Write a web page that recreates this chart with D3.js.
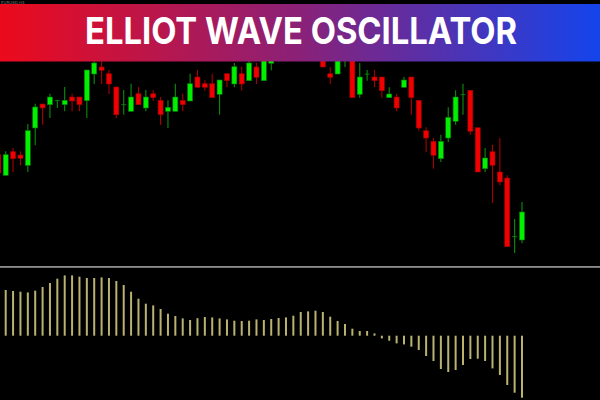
<!DOCTYPE html>
<html>
<head>
<meta charset="utf-8">
<script src="https://cdn.jsdelivr.net/npm/d3@7"></script>
<style>
  body { margin: 0; background: #000; }
  svg { display: block; }
</style>
</head>
<body>
<div id="chart"></div>
<script>
// candle index (first one is cut at the left edge)
var bars = d3.range(-1, 71);

// OHLC
var opens  = [145.3, 124.7, 148.3, 145, 134.7, 172, 196, 195.3, 199.7, 195.3, 203, 203, 199.3, 226, 233, 226.3,
              213, 195.5, 188.7, 206.3, 192, 206.3, 199.7, 188.7, 188.7, 199.7, 199, 223, 216.3, 216.3, 205.7,
              226.3, 216, 226.3, 219.3, 233, 219.3, 236.7, 250, 244, 252, 258, 252, 257, 246, 226.3, 226, 242,
              247, 205.7, 226.1, 223, 223, 202.3, 203, 212.7, 223, 199.7, 169.3, 158.7, 141.3, 162, 178.7, 205.5,
              209.7, 172.3, 131.3, 148.3, 128, 122, 63.5, 60];
var highs  = [147, 148.7, 152, 148.7, 176, 196.3, 196, 206.3, 199.7, 213, 206.3, 203, 230, 238.7, 240, 230,
              213, 210, 216.3, 213, 210, 210, 203, 199.7, 216.3, 206.3, 226.3, 230, 219.7, 226.3, 220, 226.3,
              237, 233.3, 241, 237, 245, 246, 252, 256, 262, 261, 260, 259, 249, 233, 246, 250, 250, 237, 230,
              230, 223, 212.7, 206.3, 223, 223, 199.7, 172.7, 162, 165.3, 192.7, 209.7, 216.3, 209.7, 172.3, 152,
              155.3, 162, 124.7, 81, 98];
var lows   = [124, 124.7, 128, 134.7, 128, 154.7, 175.3, 182, 192, 188.7, 188.7, 188.7, 182, 216, 216, 206,
              182, 185.3, 188.7, 195.3, 188.7, 199, 175, 172, 188.7, 188.7, 199, 212.7, 209.3, 202.3, 185.3,
              212.7, 212.7, 209.3, 219.3, 216, 219.3, 229.7, 241, 242, 249, 247, 250, 244, 233, 216, 226, 233,
              202.3, 202.3, 219.3, 212.7, 202.3, 202.3, 188.7, 212.7, 185.3, 169.3, 148, 131.3, 138, 158, 175.3,
              185.3, 165.3, 128, 128, 97, 114.7, 53.3, 47, 56.7];
var closes = [127, 145.3, 141.3, 141.7, 169.3, 193, 192, 203, 199.7, 199.7, 199, 195.3, 230, 237, 229.7, 216,
              185.3, 195.7, 203, 195.3, 203, 202.3, 185.3, 192.7, 203, 195.3, 216.3, 212.7, 212.7, 202.3, 220,
              219.3, 233.3, 216, 237, 222.7, 242, 243, 244, 252, 258, 252, 257, 248, 233, 222.7, 243, 248, 202.3,
              223, 226.3, 219.3, 209.3, 206, 192, 220, 202.3, 172, 162, 144.7, 158.7, 182.7, 203, 205.7, 168.7,
              128, 142, 134.7, 118, 53.3, 63.7, 88];

// elliot wave oscillator, one value per visible candle
var ewo = [45.7, 44.7, 44, 43.3, 45, 48.7, 52.7, 57, 60.3, 60.3, 59, 57.7, 57.7, 58.3, 57.7, 54.7, 50.7, 44,
           37, 32, 30.3, 26.7, 22, 19.7, 17.3, 15.7, 17.5, 18.7, 18.3, 17.3, 16.3, 15, 14.7, 15, 16.3, 15.7,
           16.7, 17.7, 18.3, 20, 23.7, 24.3, 25, 23.7, 19, 14.7, 11.7, 7, 4.7, 4.7, 2.3, -2.7, -5, -7.7, -8.7,
           -11, -14.3, -20.3, -25.3, -33.3, -36.3, -34.3, -29.3, -23.3, -23, -25.3, -32.7, -39.3, -49.3, -57, -62];

var title = "ELLIOT WAVE OSCILLATOR";

var svgWidth = 600;
var svgHeight = 400;

var candles = bars.map(function (b, i) {
    return { bar: b, open: opens[i], high: highs[i], low: lows[i], close: closes[i] };
});
var oscData = ewo.map(function (v, i) { return { bar: i, value: v }; });

var svg = d3.select("#chart")
    .append("svg")
    .attr("width", svgWidth)
    .attr("height", svgHeight);

svg.append("rect")
    .attr("width", svgWidth)
    .attr("height", svgHeight)
    .attr("fill", "#000");

// scales
var xScale = d3.scaleLinear()
    .domain([0, 70])
    .range([5.7, 522]);

var yPrice = d3.scaleLinear()
    .domain([30, 240])
    .range([270, 60]);

var yOsc = d3.scaleLinear()
    .domain([-62, 62])
    .range([397.7, 273.7]);

var defs = svg.append("defs");
defs.append("clipPath")
    .attr("id", "priceClip")
    .append("rect")
    .attr("x", 0)
    .attr("y", 61)
    .attr("width", svgWidth)
    .attr("height", 204);

var grad = defs.append("linearGradient")
    .attr("id", "bannerGrad")
    .attr("x1", "0%").attr("x2", "100%")
    .attr("y1", "0%").attr("y2", "0%");
grad.append("stop").attr("offset", "0%").attr("stop-color", "#ec0a1c");
grad.append("stop").attr("offset", "50%").attr("stop-color", "#8a2178");
grad.append("stop").attr("offset", "100%").attr("stop-color", "#1444ec");

// candles
var priceGroup = svg.append("g")
    .attr("clip-path", "url(#priceClip)");

var bodyW = 5;

priceGroup.selectAll(".wick")
    .data(candles)
    .enter()
    .append("line")
    .attr("class", "wick")
    .attr("x1", d => xScale(d.bar))
    .attr("x2", d => xScale(d.bar))
    .attr("y1", d => yPrice(d.high))
    .attr("y2", d => yPrice(d.low))
    .attr("stroke", d => d.close >= d.open ? "#0b8d0b" : "#a80000")
    .attr("stroke-width", 1.1);

priceGroup.selectAll(".body")
    .data(candles)
    .enter()
    .append("rect")
    .attr("class", "body")
    .attr("x", d => xScale(d.bar) - bodyW / 2)
    .attr("y", d => yPrice(Math.max(d.open, d.close)))
    .attr("width", bodyW)
    .attr("height", d => Math.max(0.8, Math.abs(yPrice(d.open) - yPrice(d.close))))
    .attr("fill", function (d) {
        if (Math.abs(d.open - d.close) < 0.5) return "#0b8d0b";
        return d.close >= d.open ? "#00f000" : "#f00000";
    })
    .attr("stroke", d => d.close >= d.open ? "#087a08" : "#9a0000")
    .attr("stroke-width", d => Math.abs(d.open - d.close) < 0.5 ? 0 : 0.6);

// separator between price and oscillator
svg.append("rect")
    .attr("x", 0)
    .attr("y", 266)
    .attr("width", svgWidth)
    .attr("height", 1.8)
    .attr("fill", "#8e8e8e");

// oscillator histogram
svg.append("g")
    .selectAll("rect")
    .data(oscData)
    .enter()
    .append("rect")
    .attr("x", d => xScale(d.bar) - 1)
    .attr("y", d => yOsc(Math.max(0, d.value)))
    .attr("width", 2)
    .attr("height", d => Math.abs(yOsc(d.value) - yOsc(0)))
    .attr("fill", "#b9b271");

// banner
svg.append("rect")
    .attr("x", 0)
    .attr("y", 4)
    .attr("width", svgWidth)
    .attr("height", 57.5)
    .attr("fill", "url(#bannerGrad)");

svg.append("text")
    .attr("x", 301)
    .attr("y", 44)
    .attr("text-anchor", "middle")
    .attr("font-family", "Inter, 'Open Sans', sans-serif")
    .attr("font-weight", 700)
    .attr("font-size", "37px")
    .attr("textLength", 432)
    .attr("lengthAdjust", "spacingAndGlyphs")
    .attr("fill", "#fff")
    .text(title);

// tiny symbol label in the top strip
svg.append("text")
    .attr("x", 1)
    .attr("y", 3.6)
    .attr("font-family", "DejaVu Sans, sans-serif")
    .attr("font-size", "4px")
    .attr("fill", "#777")
    .text("EURUSD,H4");
</script>
</body>
</html>
